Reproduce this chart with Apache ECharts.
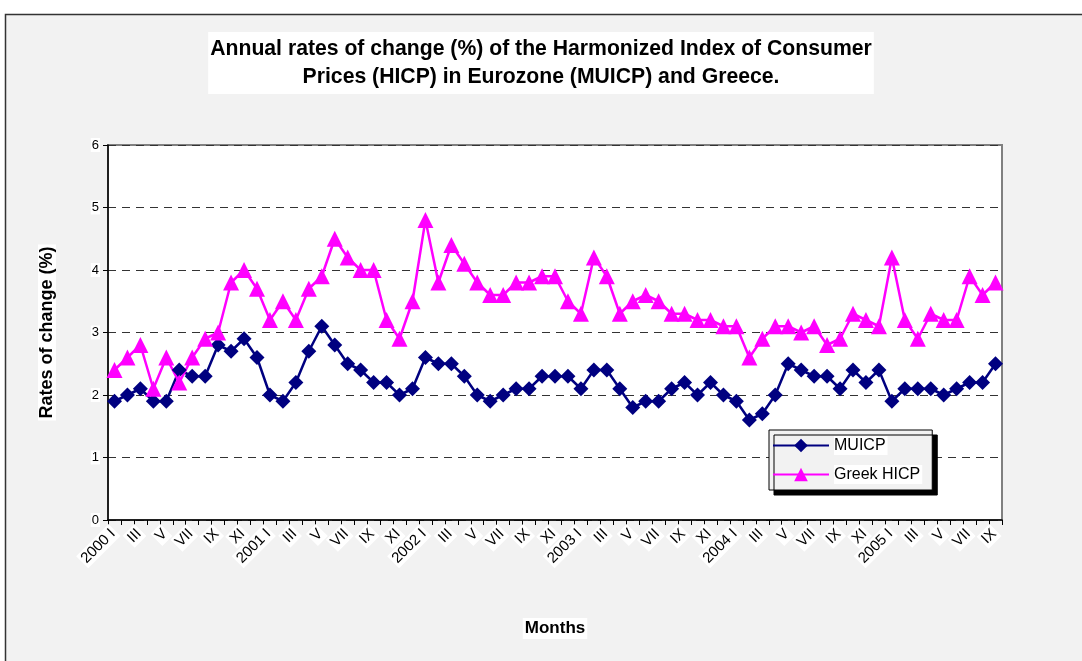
<!DOCTYPE html>
<html>
<head>
<meta charset="utf-8">
<script src="https://cdn.jsdelivr.net/npm/echarts@6/dist/echarts.min.js"></script>
<style>
html,body{margin:0;padding:0;background:#fff;}
#chart{width:1082px;height:661px;}
</style>
</head>
<body>
<div id="chart"></div>
<script>
var years = ['2000','2001','2002','2003','2004','2005'];
var months = ['I','II','III','IV','V','VI','VII','VIII','IX','X','XI','XII'];
var monthsInLastYear = 9;

var muicp = [
  1.9,2.0,2.1,1.9,1.9,2.4,2.3,2.3,2.8,2.7,2.9,2.6,
  2.0,1.9,2.2,2.7,3.1,2.8,2.5,2.4,2.2,2.2,2.0,2.1,
  2.6,2.5,2.5,2.3,2.0,1.9,2.0,2.1,2.1,2.3,2.3,2.3,
  2.1,2.4,2.4,2.1,1.8,1.9,1.9,2.1,2.2,2.0,2.2,2.0,
  1.9,1.6,1.7,2.0,2.5,2.4,2.3,2.3,2.1,2.4,2.2,2.4,
  1.9,2.1,2.1,2.1,2.0,2.1,2.2,2.2,2.5
];
var greekHicp = [
  2.4,2.6,2.8,2.1,2.6,2.2,2.6,2.9,3.0,3.8,4.0,3.7,
  3.2,3.5,3.2,3.7,3.9,4.5,4.2,4.0,4.0,3.2,2.9,3.5,
  4.8,3.8,4.4,4.1,3.8,3.6,3.6,3.8,3.8,3.9,3.9,3.5,
  3.3,4.2,3.9,3.3,3.5,3.6,3.5,3.3,3.3,3.2,3.2,3.1,
  3.1,2.6,2.9,3.1,3.1,3.0,3.1,2.8,2.9,3.3,3.2,3.1,
  4.2,3.2,2.9,3.3,3.2,3.2,3.9,3.6,3.8
];
var yTicks = [0,1,2,3,4,5,6];

var categories = [];
years.forEach(function(y, yi){
  var n = (yi === years.length - 1) ? monthsInLastYear : 12;
  for (var m = 0; m < n; m++) {
    categories.push(m === 0 ? y + ' ' + months[m] : months[m]);
  }
});

var FONT = '"Liberation Sans", Arial, sans-serif';
var chart = echarts.init(document.getElementById('chart'));
chart.setOption({
  backgroundColor: '#fff',
  animation: false,
  graphic: [{
    type: 'rect', z: -10, silent: true,
    shape: {x: 5.5, y: 14.5, width: 1200, height: 800},
    style: {fill: '#f2f2f2', stroke: '#333', lineWidth: 1.5}
  }],
  title: {
    text: 'Annual rates of change (%) of the Harmonized Index of Consumer\nPrices (HICP) in Eurozone (MUICP) and Greece.',
    left: 'center', top: 32,
    backgroundColor: '#fff',
    padding: [3, 2, 3, 2],
    textStyle: {fontFamily: FONT, fontSize: 21.2, fontWeight: 'bold', color: '#000', lineHeight: 28, align: 'center'}
  },
  legend: {
    orient: 'vertical',
    left: 769, top: 430,
    padding: [6, 10, 6, 3],
    itemGap: 10,
    itemWidth: 56, itemHeight: 17,
    backgroundColor: '#f2f2f2',
    borderColor: '#000', borderWidth: 1,
    shadowColor: '#000', shadowBlur: 0, shadowOffsetX: 5, shadowOffsetY: 5,
    textStyle: {fontFamily: FONT, fontSize: 16, color: '#000', backgroundColor: '#fff', padding: [2, 2, 1, 0]},
    data: ['MUICP', 'Greek HICP']
  },
  grid: {left: 108, right: 80, top: 145, bottom: 141, show: true, backgroundColor: '#fff', borderColor: '#808080', borderWidth: 2},
  xAxis: {
    type: 'category',
    data: categories,
    boundaryGap: true,
    name: 'Months',
    nameLocation: 'middle',
    nameGap: 98,
    nameTextStyle: {fontFamily: FONT, fontSize: 17, fontWeight: 'bold', color: '#000', backgroundColor: '#fff', padding: [2, 2, 2, 2]},
    axisLine: {lineStyle: {color: '#000', width: 1.5}},
    axisTick: {show: true, interval: 0, length: 5, inside: false, lineStyle: {color: '#000'}},
    axisLabel: {interval: 1, rotate: 45, fontFamily: FONT, fontSize: 15, color: '#000', margin: 10, backgroundColor: '#fff', padding: [1, 2, 1, 2]},
    splitLine: {show: false}
  },
  yAxis: {
    type: 'value',
    min: yTicks[0], max: yTicks[yTicks.length - 1], interval: 1,
    name: 'Rates of change (%)',
    nameLocation: 'middle',
    nameGap: 52,
    nameRotate: 90,
    nameTextStyle: {fontFamily: FONT, fontSize: 18, fontWeight: 'bold', color: '#000', backgroundColor: '#fff', padding: [0, 2, 0, 2]},
    axisLine: {show: true, lineStyle: {color: '#000', width: 1.5}},
    axisTick: {show: true, length: 5, lineStyle: {color: '#000'}},
    axisLabel: {fontFamily: FONT, fontSize: 13, color: '#000', margin: 8, backgroundColor: '#fff', padding: [1, 1, 0, 1]},
    splitLine: {show: true, lineStyle: {color: '#333', type: [8, 6], width: 1}}
  },
  series: [{
    name: 'MUICP',
    type: 'line',
    data: muicp,
    symbol: 'diamond',
    symbolSize: 15,
    showAllSymbol: true,
    itemStyle: {color: '#000080'},
    lineStyle: {color: '#000080', width: 2.5}
  }, {
    name: 'Greek HICP',
    type: 'line',
    data: greekHicp,
    symbol: 'triangle',
    symbolSize: 16,
    showAllSymbol: true,
    itemStyle: {color: '#ff00ff'},
    lineStyle: {color: '#ff00ff', width: 2.5}
  }]
});
</script>
</body>
</html>
